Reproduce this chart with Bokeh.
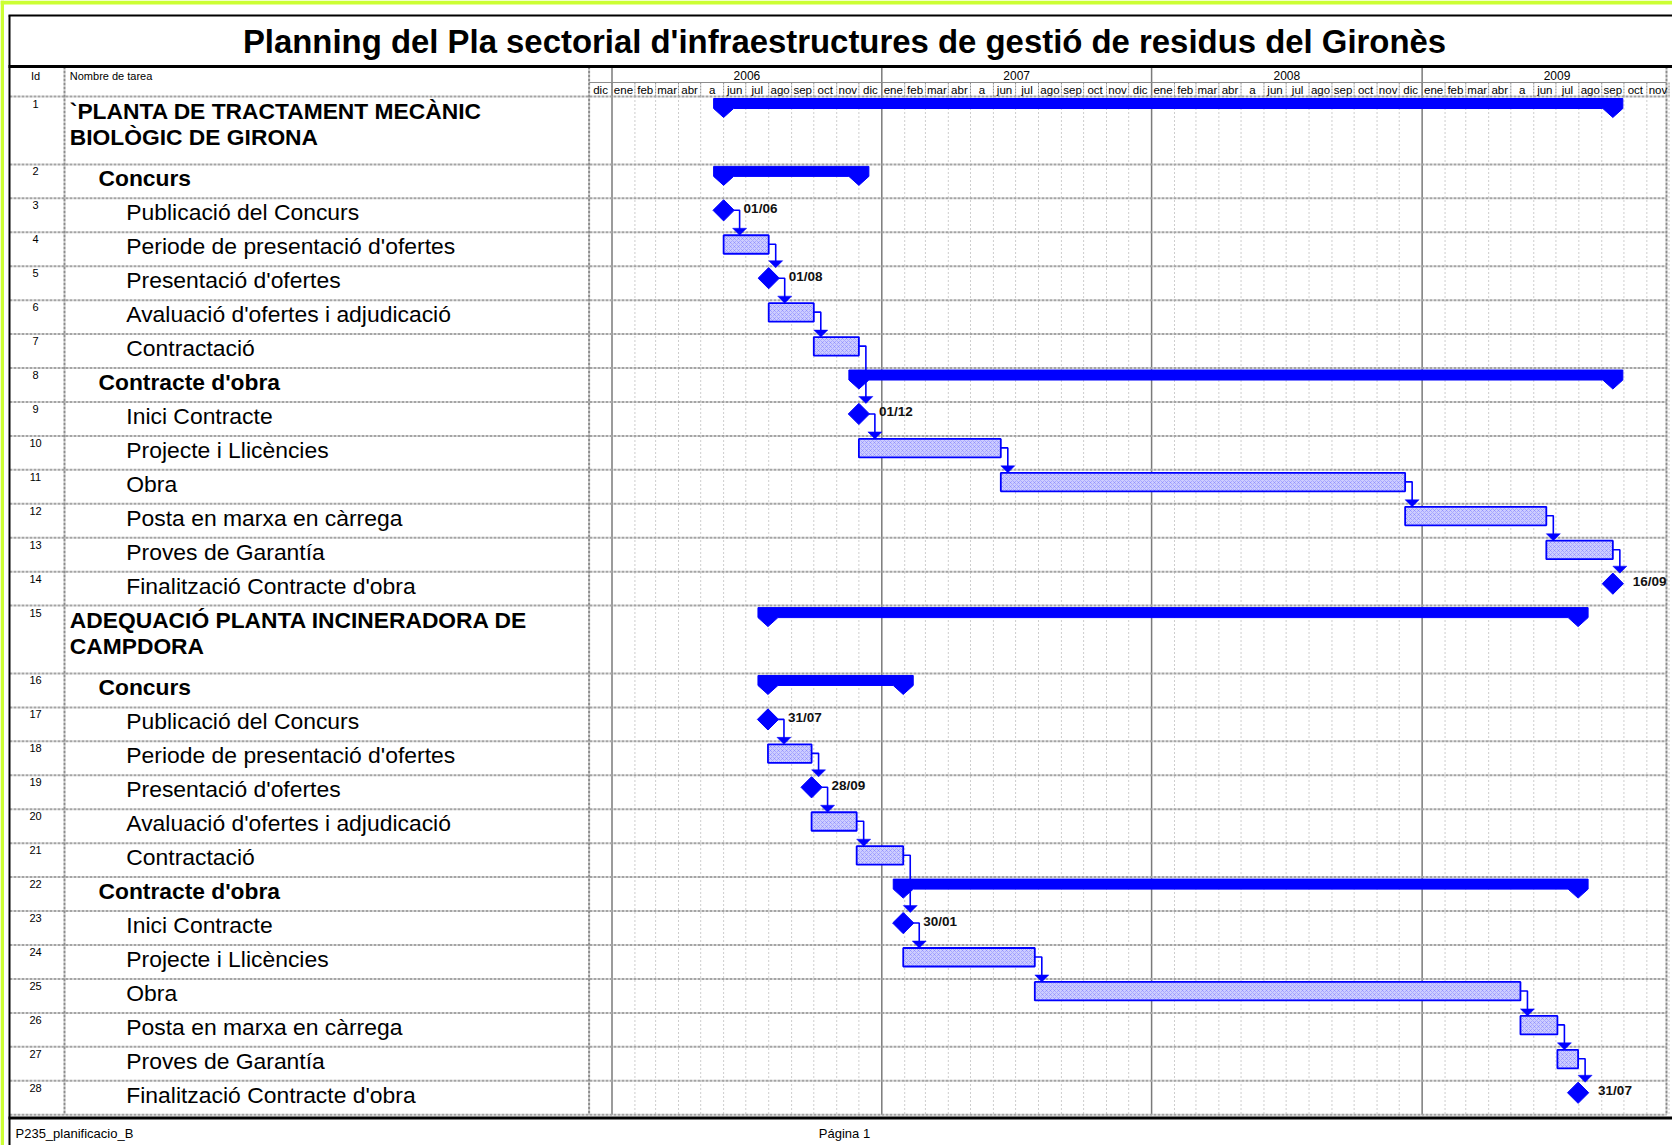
import numpy as np
import pandas as pd
from bokeh.plotting import figure
from bokeh.models import Range1d, ColumnDataSource
from bokeh.core.properties import value
from bokeh.embed import file_html
from bokeh.resources import INLINE

# ---------------- data ----------------
chart_title = "Planning del Pla sectorial d'infraestructures de gestió de residus del Gironès"
header_id = "Id"
header_name = "Nombre de tarea"
footer_left = "P235_planificacio_B"
footer_center = "Página 1"

task_ids = list(range(1, 29))
task_names = [
    ["`PLANTA DE TRACTAMENT MECÀNIC", "BIOLÒGIC DE GIRONA"],
    ["Concurs"],
    ["Publicació del Concurs"],
    ["Periode de presentació d'ofertes"],
    ["Presentació d'ofertes"],
    ["Avaluació d'ofertes i adjudicació"],
    ["Contractació"],
    ["Contracte d'obra"],
    ["Inici Contracte"],
    ["Projecte i Llicències"],
    ["Obra"],
    ["Posta en marxa en càrrega"],
    ["Proves de Garantía"],
    ["Finalització Contracte d'obra"],
    ["ADEQUACIÓ PLANTA INCINERADORA DE", "CAMPDORA"],
    ["Concurs"],
    ["Publicació del Concurs"],
    ["Periode de presentació d'ofertes"],
    ["Presentació d'ofertes"],
    ["Avaluació d'ofertes i adjudicació"],
    ["Contractació"],
    ["Contracte d'obra"],
    ["Inici Contracte"],
    ["Projecte i Llicències"],
    ["Obra"],
    ["Posta en marxa en càrrega"],
    ["Proves de Garantía"],
    ["Finalització Contracte d'obra"],
]
outline_level = [1, 2, 3, 3, 3, 3, 3, 2, 3, 3, 3, 3, 3, 3,
                 1, 2, 3, 3, 3, 3, 3, 2, 3, 3, 3, 3, 3, 3]
task_type = ["summary", "summary", "milestone", "task", "milestone", "task", "task",
             "summary", "milestone", "task", "task", "task", "task", "milestone",
             "summary", "summary", "milestone", "task", "milestone", "task", "task",
             "summary", "milestone", "task", "task", "task", "task", "milestone"]
start_dates = ["2006-06-01", "2006-06-01", "2006-06-01", "2006-06-01", "2006-08-01", "2006-08-01", "2006-10-01",
               "2006-12-01", "2006-12-01", "2006-12-01", "2007-06-11", "2008-12-09", "2009-06-18", "2009-09-16",
               "2006-07-31", "2006-07-31", "2006-07-31", "2006-07-31", "2006-09-28", "2006-09-28", "2006-11-28",
               "2007-01-30", "2007-01-30", "2007-01-30", "2007-07-27", "2009-05-14", "2009-07-03", "2009-07-31"]
finish_dates = ["2009-09-16", "2006-12-01", "2006-06-01", "2006-08-01", "2006-08-01", "2006-10-01", "2006-12-01",
                "2009-09-16", "2006-12-01", "2007-06-11", "2008-12-09", "2009-06-18", "2009-09-16", "2009-09-16",
                "2009-07-31", "2007-01-30", "2006-07-31", "2006-09-28", "2006-09-28", "2006-11-28", "2007-01-30",
                "2009-07-31", "2007-01-30", "2007-07-27", "2009-05-14", "2009-07-03", "2009-07-31", "2009-07-31"]
predecessor = [None, None, None, 3, 4, 5, 6, None, 7, 9, 10, 11, 12, 13,
               None, None, None, 17, 18, 19, 20, None, 21, 23, 24, 25, 26, 27]

timeline_years = [2006, 2007, 2008, 2009]
month_labels = ["ene", "feb", "mar", "abr", "a", "jun", "jul", "ago", "sep", "oct", "nov", "dic"]
timeline_first_month = "2005-12-01"
timeline_last_month = "2009-11-01"

# ---------------- layout constants (pixels) ----------------
W, H = 1672, 1145
PPD = 269.8 / 365.0          # pixels per day
X_JAN2006 = 611.5            # pixel position of 2006-01-01
BASE = pd.Timestamp("2006-01-01")
X_ID = 35
X_SEP_ID = 64
X_SEP_TABLE = 588.6
X_RIGHT = 1666
X_INDENT = {1: 69.3, 2: 98.0, 3: 125.8}
X_CENTER = 844
Y_TOP = 15
Y_TITLE = 40.5
Y_TITLE_LINE = 66
Y_YEAR_ROW_END = 82
Y_HEADER_END = 96
ROW_UNIT = 33.94
Y_BOTTOM_LINE = 1117.5
Y_FOOTER = 1133

BLUE = "#0000ff"
GRID = "#a4a4a4"
FONT = value("Liberation Sans")


def days(d):
    return (pd.Timestamp(d) - BASE) / pd.Timedelta(days=1)


def px(n):
    return n / PPD


p = figure(width=W, height=H, output_backend="svg", toolbar_location=None,
           x_range=Range1d(0, W), y_range=Range1d(H, 0),
           x_axis_type=None, y_axis_type=None, min_border=0)
p.extra_x_ranges = {"time": Range1d(start=-X_JAN2006 / PPD, end=(W - X_JAN2006) / PPD)}
p.outline_line_color = None
p.background_fill_color = "white"
p.border_fill_color = "white"
p.grid.visible = False

# page edge strip
p.quad(left=[0, 0], right=[W, 3.5], top=[0, 0], bottom=[4, H], fill_color="#ccff33", line_color=None)

# rows
units = [2 if lv == 1 else 1 for lv in outline_level]
row_top = Y_HEADER_END + ROW_UNIT * np.concatenate([[0], np.cumsum(units)[:-1]])
row_bottom_all = Y_HEADER_END + ROW_UNIT * np.sum(units)

# ---------------- grid / frame ----------------
months = pd.date_range(timeline_first_month, timeline_last_month, freq="MS")
month_pos = np.array([days(m) for m in months])
month_end = np.array([days(m + pd.offsets.MonthBegin(1)) for m in months])
year_pos = np.array([days(f"{y}-01-01") for y in timeline_years])
year_mid = np.array([(days(f"{y}-01-01") + days(f"{y + 1}-01-01")) / 2 for y in timeline_years])

# monthly dotted lines in body
body_months = [d for m, d in zip(months, month_pos) if m.month != 1 and d > days(timeline_first_month)]
body_months.append(month_end[-1])
p.segment(x0=body_months, x1=body_months, y0=Y_HEADER_END, y1=row_bottom_all,
          line_color="#9a9a9a", line_width=1, line_dash="1 3", x_range_name="time")
# month separators in header
hdr_m = list(month_pos[1:]) + [month_end[-1]]
p.segment(x0=hdr_m, x1=hdr_m, y0=Y_YEAR_ROW_END, y1=Y_HEADER_END, line_color="#8c8c8c",
          line_width=1, line_dash="2 1", x_range_name="time")
# year lines
p.segment(x0=year_pos, x1=year_pos, y0=Y_TITLE_LINE, y1=row_bottom_all,
          line_color="#7a7a7a", line_width=1.5, x_range_name="time")

# row separators
row_lines = list(row_top) + [row_bottom_all]
p.segment(x0=X_ID - 26, x1=X_RIGHT, y0=row_lines, y1=row_lines,
          line_color=GRID, line_width=2, line_dash="3 1")
p.segment(x0=X_SEP_TABLE, x1=X_RIGHT, y0=Y_YEAR_ROW_END, y1=Y_YEAR_ROW_END,
          line_color="#8c8c8c", line_width=1)
# column separators
p.segment(x0=[X_SEP_ID, X_SEP_TABLE, X_RIGHT], x1=[X_SEP_ID, X_SEP_TABLE, X_RIGHT],
          y0=Y_TITLE_LINE, y1=row_bottom_all, line_color="#8c8c8c", line_width=2, line_dash="3 1")

# frame
p.segment(x0=8, x1=W, y0=Y_TOP, y1=Y_TOP, line_color="black", line_width=2)
p.segment(x0=9, x1=9, y0=Y_TOP, y1=H, line_color="black", line_width=2)
p.segment(x0=8, x1=W, y0=Y_TITLE_LINE, y1=Y_TITLE_LINE, line_color="black", line_width=3)
p.segment(x0=8, x1=W, y0=Y_BOTTOM_LINE, y1=Y_BOTTOM_LINE, line_color="black", line_width=3)

# ---------------- texts ----------------
p.text(x=[X_CENTER], y=[Y_TITLE], text=[chart_title], text_font=FONT, text_font_size=value("32.9px"),
       text_font_style="bold", text_align="center", text_baseline="middle", text_color="black")
p.text(x=[X_ID], y=[75], text=[header_id], text_font=FONT, text_font_size=value("11px"),
       text_align="center", text_baseline="middle", text_color="black")
p.text(x=[X_INDENT[1]], y=[75], text=[header_name], text_font=FONT, text_font_size=value("11px"),
       text_align="left", text_baseline="middle", text_color="black")
p.text(x=year_mid, y=[74.5] * len(year_mid), text=[str(y) for y in timeline_years],
       text_font=FONT, text_font_size=value("12px"), text_align="center", text_baseline="middle",
       text_color="black", x_range_name="time")
p.text(x=(month_pos + month_end) / 2, y=[89.5] * len(months),
       text=[month_labels[m.month - 1] for m in months],
       text_font=FONT, text_font_size=value("11.5px"), text_align="center", text_baseline="middle",
       text_color="black", x_range_name="time")

# ids
p.text(x=[X_ID] * len(task_ids), y=row_top + 7, text=[str(i) for i in task_ids],
       text_font=FONT, text_font_size=value("11px"), text_align="center", text_baseline="middle",
       text_color="black")

# names
nx, ny, nt, nb = [], [], [], []
for lv, names, top in zip(outline_level, task_names, row_top):
    for k, line in enumerate(names):
        nx.append(X_INDENT[lv])
        ny.append(top + 14 + 26.7 * k)
        nt.append(line)
        nb.append(lv)
src_b = ColumnDataSource(dict(x=[a for a, b in zip(nx, nb) if b < 3], y=[a for a, b in zip(ny, nb) if b < 3],
                              t=[a for a, b in zip(nt, nb) if b < 3]))
src_n = ColumnDataSource(dict(x=[a for a, b in zip(nx, nb) if b == 3], y=[a for a, b in zip(ny, nb) if b == 3],
                              t=[a for a, b in zip(nt, nb) if b == 3]))
p.text(x="x", y="y", text="t", source=src_b, text_font=FONT, text_font_size=value("22.8px"),
       text_font_style="bold", text_baseline="middle", text_color="black")
p.text(x="x", y="y", text="t", source=src_n, text_font=FONT, text_font_size=value("22.9px"),
       text_baseline="middle", text_color="black")

# footer
p.text(x=[15], y=[Y_FOOTER], text=[footer_left], text_font=FONT, text_font_size=value("13px"),
       text_baseline="middle", text_color="black")
p.text(x=[X_CENTER], y=[Y_FOOTER], text=[footer_center], text_font=FONT, text_font_size=value("13px"),
       text_align="center", text_baseline="middle", text_color="black")

# ---------------- gantt marks ----------------
S = np.array([days(d) for d in start_dates])
F = np.array([days(d) for d in finish_dates])
typ = np.array(task_type)

# task bars
ti = np.where(typ == "task")[0]
p.quad(left=S[ti], right=F[ti], top=row_top[ti] + 3, bottom=row_top[ti] + 21.5,
       fill_color="#cdcdff", line_color=BLUE, line_width=1.8,
       hatch_pattern="x", hatch_color="#5a5aff", hatch_scale=4, hatch_weight=0.6, hatch_alpha=0.55,
       x_range_name="time")

# summary bars
si = np.where(typ == "summary")[0]
w = px(10)
sx, sy = [], []
for i in si:
    s, f, t = S[i], F[i], row_top[i]
    top, bb, tip = t + 2, t + 12, t + 21
    sx.append([s - w, f + w, f + w, f, f - w, s + w, s, s - w])
    sy.append([top, top, bb, tip, bb, bb, tip, bb])
p.patches(xs=sx, ys=sy, fill_color=BLUE, line_color=BLUE, line_width=1, x_range_name="time")

# milestones
mi = np.where(typ == "milestone")[0]
p.scatter(x=F[mi], y=row_top[mi] + 12, marker="square", angle=np.pi / 4, size=15,
          fill_color=BLUE, line_color=BLUE, x_range_name="time")
p.text(x=F[mi] + px(20), y=row_top[mi] + 10,
       text=[pd.Timestamp(finish_dates[i]).strftime("%d/%m") for i in mi],
       text_font=FONT, text_font_size=value("13.5px"), text_font_style="bold",
       text_baseline="middle", text_color="#111111", x_range_name="time")

# links
lx, ly, ax, ay = [], [], [], []
for j, pr in enumerate(predecessor):
    if pr is None:
        continue
    i = pr - 1
    is_ms = typ[i] == "milestone"
    x_h0 = F[i] + (px(10) if is_ms else 0)
    x_v = F[i] + (px(16) if is_ms else px(7))
    y_mid = row_top[i] + 12
    tip = row_top[j] + (1.5 if typ[j] == "milestone" else 3)
    lx.append([x_h0, x_v, x_v])
    ly.append([y_mid, y_mid, tip - 6])
    ax.append([x_v - px(7), x_v + px(7), x_v])
    ay.append([tip - 7, tip - 7, tip])
p.multi_line(xs=lx, ys=ly, line_color=BLUE, line_width=1.6, x_range_name="time")
p.patches(xs=ax, ys=ay, fill_color=BLUE, line_color=BLUE, line_width=0.5, x_range_name="time")

open("out.html", "w").write(file_html(p, INLINE))
